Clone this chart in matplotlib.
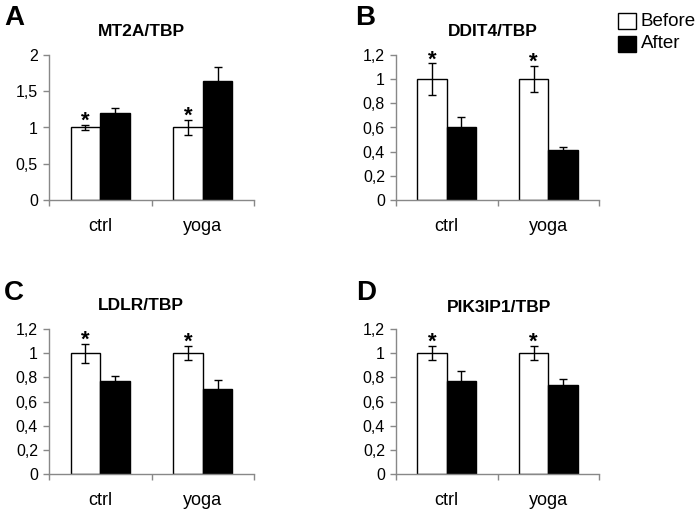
import matplotlib
matplotlib.use("Agg")
import matplotlib.pyplot as plt
from matplotlib.patches import Rectangle

plt.rcParams['font.family'] = ['Liberation Sans', 'DejaVu Sans']

categories = ["ctrl", "yoga"]
panel_letters = ["A", "B", "C", "D"]
titles = ["MT2A/TBP", "DDIT4/TBP", "LDLR/TBP", "PIK3IP1/TBP"]

before_vals = [[1.0, 1.0], [1.0, 1.0], [1.0, 1.0], [1.0, 1.0]]
before_err = [[0.04, 0.10], [0.13, 0.11], [0.08, 0.06], [0.06, 0.06]]
after_vals = [[1.20, 1.64], [0.60, 0.41], [0.77, 0.70], [0.77, 0.74]]
after_err = [[0.07, 0.20], [0.09, 0.03], [0.045, 0.075], [0.085, 0.045]]

yticks = [[0, 0.5, 1, 1.5, 2], [0, 0.2, 0.4, 0.6, 0.8, 1, 1.2],
          [0, 0.2, 0.4, 0.6, 0.8, 1, 1.2], [0, 0.2, 0.4, 0.6, 0.8, 1, 1.2]]
ytick_labels = [["0", "0,5", "1", "1,5", "2"],
                ["0", "0,2", "0,4", "0,6", "0,8", "1", "1,2"],
                ["0", "0,2", "0,4", "0,6", "0,8", "1", "1,2"],
                ["0", "0,2", "0,4", "0,6", "0,8", "1", "1,2"]]
legend_labels = ["Before", "After"]

W, H = 700, 511
fig = plt.figure(figsize=(W / 100, H / 100), dpi=100)

# axes boxes in pixels: left, right, top, bottom
boxes = [(49, 254, 55, 200), (396, 599, 55, 200), (49, 254, 329, 474), (396, 599, 329, 474)]
title_pos = [(141, 31), (493, 31), (141, 306), (499, 308)]
letter_pos = [(4, 18), (355, 18), (4, 293), (356, 293)]

gray = "#888888"
bw = 0.29
for i in range(4):
    l, r, t, b = boxes[i]
    ax = fig.add_axes([l / W, 1 - b / H, (r - l) / W, (b - t) / H])
    x = range(len(categories))
    xb = [xi - bw / 2 for xi in x]
    xa = [xi + bw / 2 for xi in x]
    ax.bar(xb, before_vals[i], bw, color="white", edgecolor="black", linewidth=1.0, zorder=2)
    ax.bar(xa, after_vals[i], bw, color="black", edgecolor="black", linewidth=1.0, zorder=2)
    ax.errorbar(xb, before_vals[i], yerr=before_err[i], fmt="none", ecolor="black",
                elinewidth=1.0, capsize=3, capthick=1.0, zorder=3)
    ax.errorbar(xa, after_vals[i], yerr=after_err[i], fmt="none", ecolor="black",
                elinewidth=1.0, capsize=3, capthick=1.0, zorder=3)
    for j in range(len(categories)):
        ax.annotate("*", (xb[j], before_vals[i][j] + before_err[i][j]),
                    xytext=(0, -5), textcoords="offset points",
                    ha="center", va="bottom", fontsize=16, fontweight="bold")
    ax.set_xlim(-0.5, 1.5)
    ax.set_ylim(0, yticks[i][-1])
    ax.set_yticks(yticks[i])
    ax.set_yticklabels(ytick_labels[i], fontsize=11.5)
    ax.set_xticks(list(x))
    ax.set_xticklabels(categories, fontsize=13)
    ax.set_xticks([-0.5, 0.5, 1.5], minor=True)
    ax.tick_params(axis="x", which="major", length=0, pad=13)
    ax.tick_params(axis="x", which="minor", length=4, color=gray, width=1)
    ax.tick_params(axis="y", length=4, color=gray, width=1, pad=4)
    for s in ["top", "right"]:
        ax.spines[s].set_visible(False)
    for s in ["left", "bottom"]:
        ax.spines[s].set_color(gray)
        ax.spines[s].set_linewidth(1)
    ax.patch.set_visible(False)
    tx, ty = title_pos[i]
    fig.text(tx / W, 1 - ty / H, titles[i], ha="center", va="center",
             fontsize=12.5, fontweight="bold")
    lx, ly = letter_pos[i]
    fig.text(lx / W, 1 - ly / H, panel_letters[i], ha="left", va="center",
             fontsize=20, fontweight="bold")

# legend
fig.patches.append(Rectangle((618 / W, 1 - 29 / H), 18 / W, 16 / H, transform=fig.transFigure,
                             facecolor="white", edgecolor="black", linewidth=1))
fig.patches.append(Rectangle((618 / W, 1 - 52 / H), 18 / W, 16 / H, transform=fig.transFigure,
                             facecolor="black", edgecolor="black", linewidth=1))
fig.text(641 / W, 1 - 21 / H, legend_labels[0], ha="left", va="center", fontsize=13.5)
fig.text(641 / W, 1 - 44 / H, legend_labels[1], ha="left", va="center", fontsize=13.5)

fig.savefig("out.png", dpi=100)
